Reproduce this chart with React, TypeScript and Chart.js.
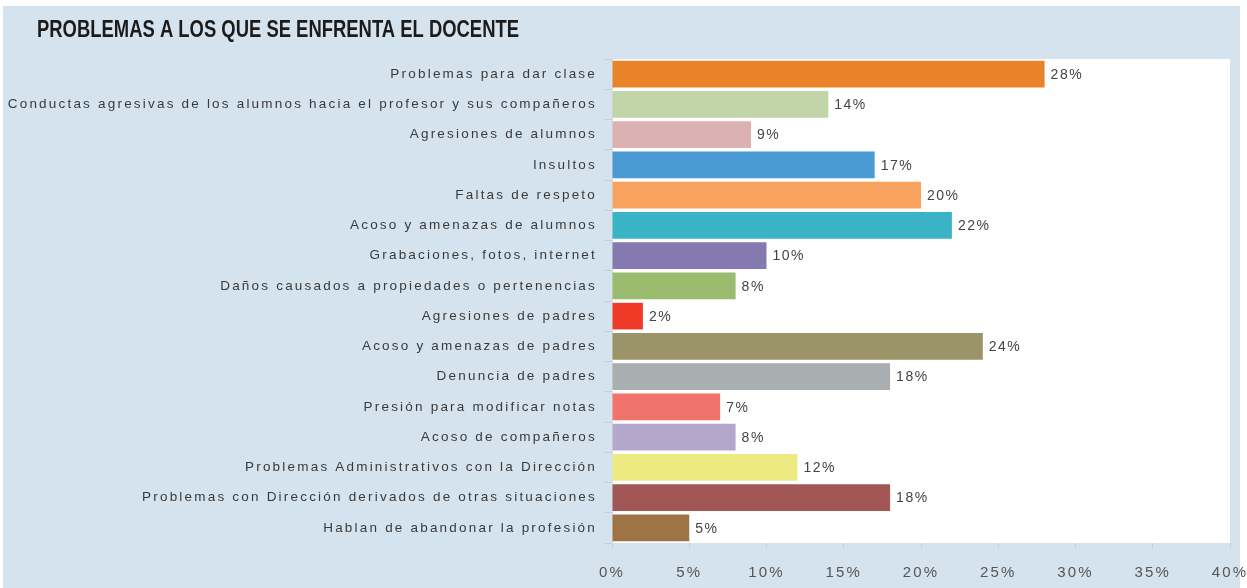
import React, { useEffect, useRef } from "react";
import { Chart, registerables } from "chart.js";

Chart.register(...registerables);

const TITLE = "PROBLEMAS A LOS QUE SE ENFRENTA EL DOCENTE";

const categories = [
  "Problemas para dar clase",
  "Conductas agresivas de los alumnos hacia el profesor y sus compañeros",
  "Agresiones de alumnos",
  "Insultos",
  "Faltas de respeto",
  "Acoso y amenazas de alumnos",
  "Grabaciones, fotos, internet",
  "Daños causados a propiedades o pertenencias",
  "Agresiones de padres",
  "Acoso y amenazas de padres",
  "Denuncia de padres",
  "Presión para modificar notas",
  "Acoso de compañeros",
  "Problemas Administrativos con la Dirección",
  "Problemas con Dirección derivados de otras situaciones",
  "Hablan de abandonar la profesión",
];

const values = [28, 14, 9, 17, 20, 22, 10, 8, 2, 24, 18, 7, 8, 12, 18, 5];

const barColors = [
  "#E8832A",
  "#C2D5A8",
  "#DBB1B1",
  "#4A9AD4",
  "#F7A25E",
  "#3AB3C6",
  "#857AB0",
  "#9BBB6F",
  "#EE3A26",
  "#9A9468",
  "#A9AEB1",
  "#F2726C",
  "#B3A8CB",
  "#EEEA82",
  "#A35656",
  "#9E7447",
];

const xMin = 0;
const xMax = 40;
const xStep = 5;

const PANEL_BG = "#D5E3EE";
const LABEL_SPACING = "2.2px";

const spacingPlugin = {
  id: "spacing",
  beforeUpdate(chart: any) {
    chart.ctx.letterSpacing = LABEL_SPACING;
  },
  beforeLayout(chart: any) {
    chart.ctx.letterSpacing = LABEL_SPACING;
  },
  beforeDraw(chart: any) {
    chart.ctx.letterSpacing = LABEL_SPACING;
  },
};

const bgPlugin = {
  id: "bgPanel",
  beforeDraw(chart: any) {
    const { ctx, chartArea, width, height } = chart;
    ctx.save();
    ctx.fillStyle = "#ffffff";
    ctx.fillRect(0, 0, width, height);
    ctx.fillStyle = PANEL_BG;
    ctx.fillRect(3, 6, width - 10, height - 6);
    ctx.fillStyle = "#ffffff";
    ctx.fillRect(
      chartArea.left,
      chartArea.top,
      chartArea.right - chartArea.left,
      chartArea.bottom - chartArea.top
    );
    ctx.restore();
  },
};

const titlePlugin = {
  id: "customTitle",
  afterDraw(chart: any) {
    const { ctx } = chart;
    ctx.save();
    ctx.letterSpacing = "0px";
    ctx.font = 'bold 24px "Liberation Sans", sans-serif';
    ctx.fillStyle = "#1b1b1b";
    ctx.textAlign = "left";
    ctx.textBaseline = "middle";
    const w = ctx.measureText(TITLE).width;
    ctx.translate(37, 30);
    ctx.scale(482 / w, 1);
    ctx.fillText(TITLE, 0, 0);
    ctx.restore();
  },
};

const valueLabelPlugin = {
  id: "valueLabels",
  afterDatasetsDraw(chart: any) {
    const { ctx } = chart;
    const meta = chart.getDatasetMeta(0);
    ctx.save();
    ctx.letterSpacing = "1.5px";
    ctx.font = '14px "Liberation Sans", sans-serif';
    ctx.fillStyle = "#444444";
    ctx.textAlign = "left";
    ctx.textBaseline = "middle";
    meta.data.forEach((bar: any, i: number) => {
      ctx.fillText(values[i] + "%", bar.x + 6, bar.y + 1);
    });
    ctx.restore();
  },
};

export default function App() {
  const canvasRef = useRef<HTMLCanvasElement | null>(null);

  useEffect(() => {
    document.body.style.margin = "0";
    const canvas = canvasRef.current;
    if (!canvas) return;
    const chart = new Chart(canvas, {
      type: "bar",
      data: {
        labels: categories,
        datasets: [
          {
            data: values,
            backgroundColor: barColors,
            borderWidth: 0,
            categoryPercentage: 0.88,
            barPercentage: 1,
          },
        ],
      },
      options: {
        indexAxis: "y",
        animation: false,
        responsive: false,
        maintainAspectRatio: false,
        layout: {
          padding: { top: 59, right: 0, left: 0, bottom: 0 },
        },
        plugins: {
          legend: { display: false },
          title: { display: false },
          tooltip: { enabled: false },
        },
        scales: {
          x: {
            min: xMin,
            max: xMax,
            ticks: {
              stepSize: xStep,
              color: "#555555",
              font: { family: '"Liberation Sans", sans-serif', size: 15 },
              padding: 16,
              callback: (v: any) => v + "%",
            },
            grid: {
              drawOnChartArea: false,
              drawTicks: true,
              tickLength: 5,
              color: "#cccccc",
            },
            border: { display: false },
            afterFit(scale: any) {
              scale.height = 45;
              scale.paddingRight = 17;
              scale.paddingLeft = 0;
            },
          },
          y: {
            ticks: {
              color: "#3a3a3a",
              font: { family: '"Liberation Sans", sans-serif', size: 13.5 },
              padding: 8,
              autoSkip: false,
            },
            grid: {
              drawOnChartArea: false,
              drawTicks: true,
              tickLength: 7,
              color: "#cccccc",
              offset: true,
            },
            border: { display: true, color: "#dddddd" },
            afterFit(scale: any) {
              scale.width = 612;
            },
          },
        },
      },
      plugins: [spacingPlugin, bgPlugin, valueLabelPlugin, titlePlugin],
    } as any);
    return () => chart.destroy();
  }, []);

  return (
    <div style={{ position: "fixed", left: 0, top: 0, width: 1247, height: 588 }}>
      <canvas ref={canvasRef} width={1247} height={588} style={{ width: 1247, height: 588, display: "block" }} />
    </div>
  );
}
